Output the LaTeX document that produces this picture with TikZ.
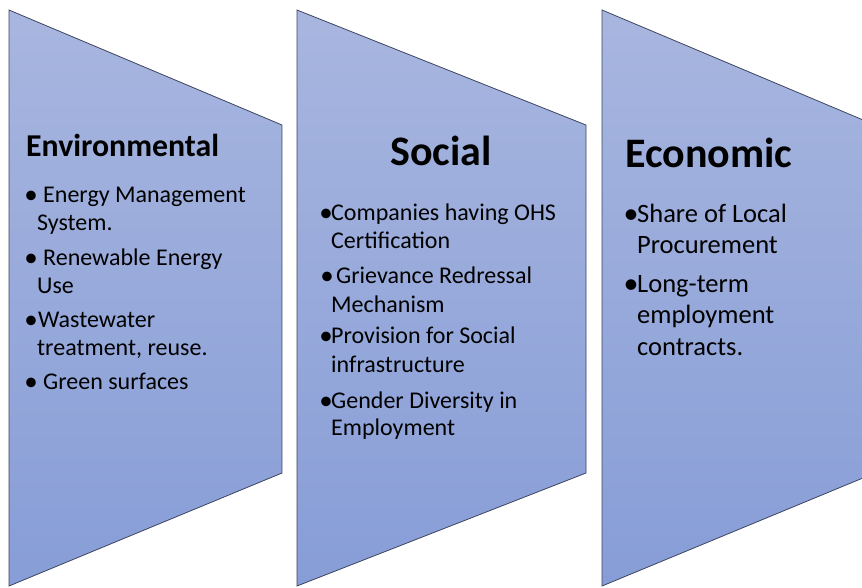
\documentclass[tikz,border=0pt]{standalone}
\usepackage{fontspec}
\setmainfont{Carlito}
\definecolor{shtop}{RGB}{168,182,223}
\definecolor{shbot}{RGB}{135,157,215}
\definecolor{shline}{RGB}{60,68,95}
\begin{document}
\begin{tikzpicture}[x=1pt,y=-1pt,
  panel/.style={top color=shtop,bottom color=shbot,draw=shline,line width=0.8pt,line join=miter},
  ttl/.style={inner sep=0pt,anchor=base west,font=\fontsize{31.8}{36}\selectfont\bfseries},
  bigttl/.style={inner sep=0pt,anchor=base west,font=\fontsize{42}{50}\selectfont\bfseries},
  bodyA/.style={inner sep=0pt,anchor=base west,font=\fontsize{24}{28}\selectfont},
  bodyC/.style={inner sep=0pt,anchor=base west,font=\fontsize{26.5}{31}\selectfont},
  bulA/.style={inner sep=0pt,anchor=base,font=\fontsize{27}{27}\selectfont},
  bulC/.style={inner sep=0pt,anchor=base,font=\fontsize{30}{30}\selectfont}]
\useasboundingbox (0,0) rectangle (862,587);
\clip (0,0) rectangle (862,587);
% panels
\path[panel] (9,10) -- (282,125) -- (282,473) -- (9,586) -- cycle;
\path[panel] (297,10) -- (586,125) -- (586,473) -- (297,586) -- cycle;
\path[panel] (602,10) -- (875,125) -- (875,473) -- (602,586) -- cycle;
% Environmental
\node[ttl] (envT) at (26,156) {Environmental};
\node[bulA] (eb1) at (31,203) {•};
\node[bodyA] (e1a) at (43,202) {Energy Management};
\node[bodyA] (e1b) at (37,230) {System.};
\node[bulA] (eb2) at (31,266) {•};
\node[bodyA] (e2a) at (43,265) {Renewable Energy};
\node[bodyA] (e2b) at (37,293) {Use};
\node[bulA] (eb3) at (31,328) {•};
\node[bodyA] (e3a) at (38,327) {Wastewater};
\node[bodyA] (e3b) at (37,355) {treatment, reuse.};
\node[bulA] (eb4) at (31,390) {•};
\node[bodyA] (e4a) at (43,389) {Green surfaces};
% Social
\node[bigttl] (socT) at (390,165) {Social};
\node[bulA] (sb1) at (326,221) {•};
\node[bodyA] (s1a) at (331,220) {Companies having OHS};
\node[bodyA] (s1b) at (331,248) {Certification};
\node[bulA] (sb2) at (327,284) {•};
\node[bodyA] (s2a) at (336,283) {Grievance Redressal};
\node[bodyA] (s2b) at (331,312) {Mechanism};
\node[bulA] (sb3) at (326,344) {•};
\node[bodyA] (s3a) at (331,343) {Provision for Social};
\node[bodyA] (s3b) at (331,372) {infrastructure};
\node[bulA] (sb4) at (326,409) {•};
\node[bodyA] (s4a) at (331,408) {Gender Diversity in};
\node[bodyA] (s4b) at (331,435) {Employment};
% Economic
\node[bigttl] (ecoT) at (625,167) {Economic};
\node[bulC] (cb1) at (631,223) {•};
\node[bodyC] (c1a) at (637,222) {Share of Local};
\node[bodyC] (c1b) at (637,253) {Procurement};
\node[bulC] (cb2) at (631,293) {•};
\node[bodyC] (c2a) at (637,292) {Long-term};
\node[bodyC] (c2b) at (637,323) {employment};
\node[bodyC] (c2c) at (637,355) {contracts.};
\end{tikzpicture}
\end{document}
